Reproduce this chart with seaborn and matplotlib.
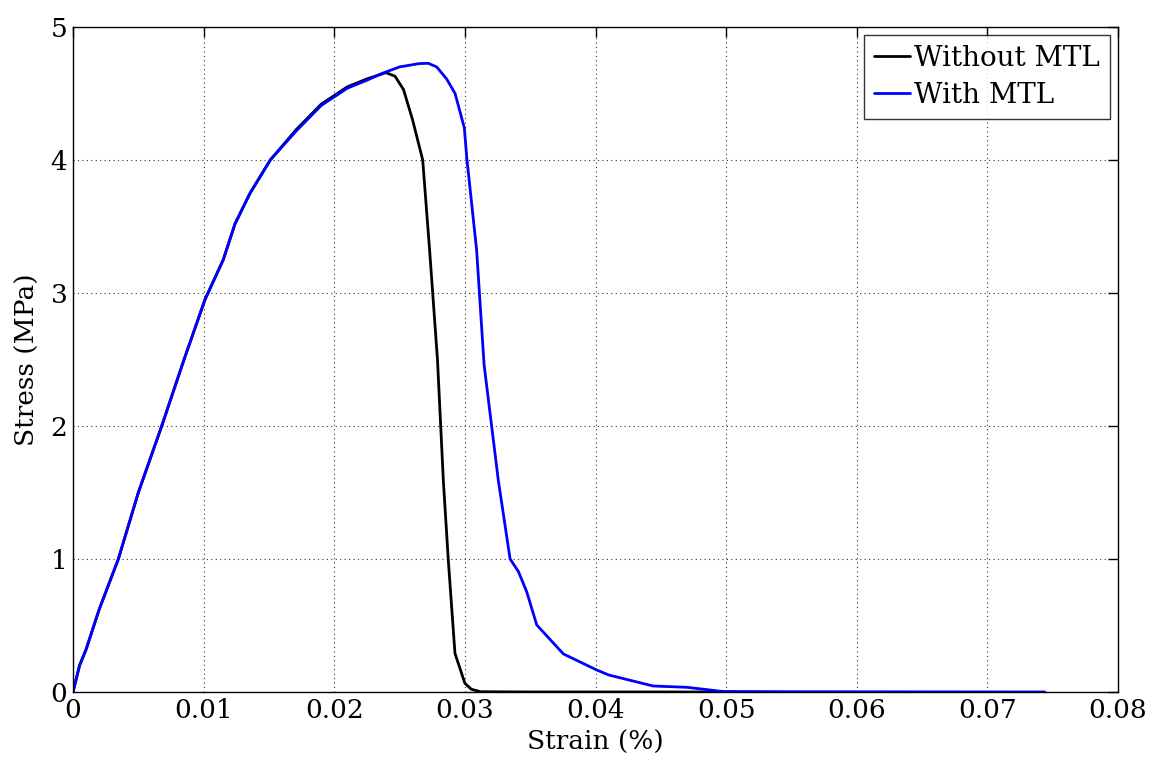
import matplotlib
matplotlib.use("Agg")
import matplotlib.pyplot as plt
import seaborn as sns
import pandas as pd

# Stress-strain curves
strain_without = [0.0, 0.0005, 0.001, 0.002, 0.00347, 0.005, 0.00679, 0.0085, 0.0101, 0.0115,
                  0.0124, 0.01355, 0.0151, 0.0171, 0.019, 0.021, 0.0225, 0.02396, 0.02465,
                  0.0253, 0.026, 0.02677, 0.0273, 0.0279, 0.02835, 0.02873, 0.02924, 0.0300,
                  0.0305, 0.0312, 0.035, 0.04, 0.045, 0.0497]
stress_without = [0.0, 0.2, 0.32, 0.62, 1.0, 1.5, 2.0, 2.5, 2.95, 3.25,
                  3.52, 3.75, 4.0, 4.23, 4.42, 4.55, 4.61, 4.657, 4.63,
                  4.53, 4.30, 4.0, 3.32, 2.5, 1.59, 0.99, 0.29, 0.065,
                  0.02, 0.002, 0.0, 0.0, 0.0, 0.0]

strain_with = [0.0, 0.0005, 0.001, 0.002, 0.00347, 0.005, 0.00679, 0.0085, 0.0101, 0.0115,
               0.0124, 0.01355, 0.0151, 0.0171, 0.019, 0.021, 0.0225, 0.02363, 0.025,
               0.0265, 0.0272, 0.02784, 0.0286, 0.02925, 0.02996, 0.03014, 0.0309, 0.03147,
               0.03256, 0.03346, 0.0341, 0.03473, 0.0355, 0.03754, 0.0401, 0.041,
               0.0444, 0.047, 0.049, 0.0497, 0.055, 0.065, 0.0744]
stress_with = [0.0, 0.2, 0.32, 0.62, 1.0, 1.5, 2.0, 2.5, 2.95, 3.25,
               3.52, 3.75, 4.0, 4.22, 4.41, 4.54, 4.60, 4.65, 4.70,
               4.725, 4.727, 4.70, 4.61, 4.50, 4.24, 4.02, 3.32, 2.46,
               1.59, 1.0, 0.905, 0.754, 0.504, 0.286, 0.165, 0.128,
               0.045, 0.035, 0.012, 0.004, 0.002, 0.001, 0.0]

df = pd.concat([
    pd.DataFrame({"strain": strain_without, "stress": stress_without, "case": "Without MTL"}),
    pd.DataFrame({"strain": strain_with, "stress": stress_with, "case": "With MTL"}),
])

sns.set_style("white")
plt.rcParams["font.family"] = ["DejaVu Serif"]
plt.rcParams["font.size"] = 19
plt.rcParams["text.color"] = "black"

fig = plt.figure(figsize=(11.63, 7.81), dpi=100)
ax = fig.add_axes([0.0628, 0.114, 0.8985, 0.8514])

sns.lineplot(data=df, x="strain", y="stress", hue="case", sort=False,
             palette={"Without MTL": "black", "With MTL": "#0000ff"},
             linewidth=2, ax=ax)

ax.set_xlim(0, 0.08)
ax.set_ylim(0, 5)
ax.set_xticks([0, 0.01, 0.02, 0.03, 0.04, 0.05, 0.06, 0.07, 0.08])
ax.set_xticklabels(["0", "0.01", "0.02", "0.03", "0.04", "0.05", "0.06", "0.07", "0.08"])
ax.set_yticks([0, 1, 2, 3, 4, 5])
ax.grid(True, linestyle=(0, (1, 3)), color="black", linewidth=0.8, alpha=0.8)
ax.tick_params(direction="in", length=7, width=1, top=True, right=True,
               labelsize=19, pad=4, colors="black")
for s in ax.spines.values():
    s.set_color("black")
    s.set_linewidth(1)

ax.set_xlabel("Strain (%)", fontsize=19, labelpad=5, color="black")
ax.set_ylabel("Stress (MPa)", fontsize=19, labelpad=8, color="black")

leg = ax.legend(loc="upper right", fontsize=20, frameon=True, fancybox=False,
                handlelength=1.3, handletextpad=0.15, borderpad=0.35,
                labelspacing=0.35, borderaxespad=0.3)
leg.get_frame().set_edgecolor("black")
leg.get_frame().set_linewidth(1)
for t in leg.get_texts():
    t.set_color("black")

fig.savefig("out.png", dpi=100)
